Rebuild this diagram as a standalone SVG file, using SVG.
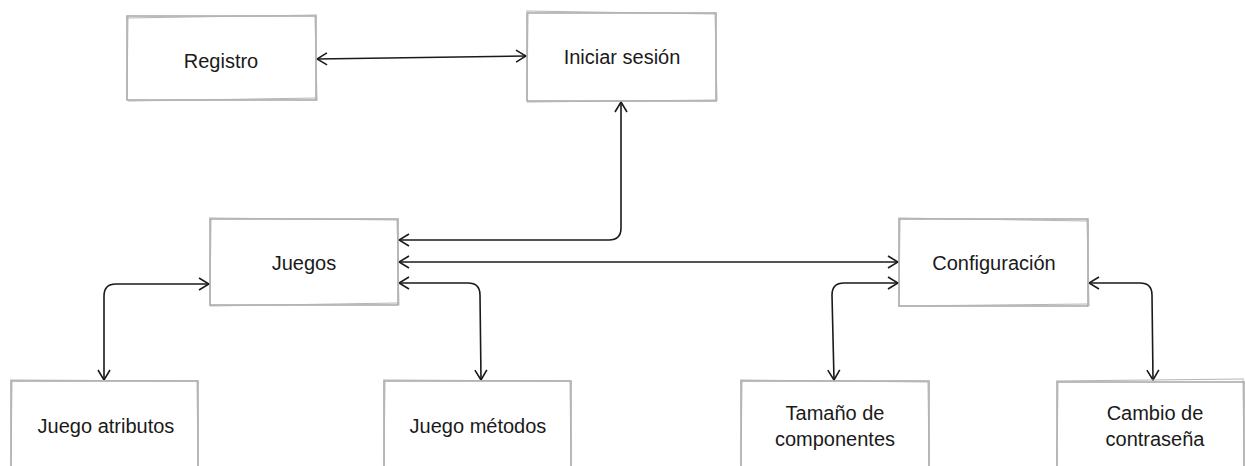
<svg xmlns="http://www.w3.org/2000/svg" width="1245" height="466" viewBox="0 0 1245 466">
<style>
.box{fill:#fff;stroke:#a0a0a0;stroke-width:1.4}
.sk{fill:none;stroke:#b4b4b4;stroke-width:1}
.lbl{font-family:"Liberation Sans",Arial,sans-serif;font-size:20px;fill:#1a1a1a;text-anchor:middle}
.con{fill:none;stroke:#1a1a1a;stroke-width:1.6;marker-start:url(#ah);marker-end:url(#ah)}
</style>
<defs>
<marker id="ah" viewBox="0 0 12 14" refX="11" refY="7" markerWidth="12" markerHeight="14" markerUnits="userSpaceOnUse" orient="auto-start-reverse">
<path d="M1,1 L11,7 L1,13" fill="none" stroke="#1a1a1a" stroke-width="1.6"/>
</marker>
</defs>
<g id="connectors">
<path class="con" d="M317,59 L526,56"/>
<path class="con" d="M621,102 L621,228 Q621,240 609,240 L399,240"/>
<path class="con" d="M399,262 L898,262"/>
<path class="con" d="M104,380 L104,296 Q104,284 116,284 L209,284"/>
<path class="con" d="M399,283 L468,283 Q480,283 480,295 L481,380"/>
<path class="con" d="M898,283 L844,283 Q832,283 832,295 L834,380"/>
<path class="con" d="M1089,283 L1140,283 Q1152,283 1152,295 L1153,380"/>
</g>
<g id="registro">
<rect class="box" x="127" y="16" width="189" height="84"/>
<path class="sk" d="M126,18 L317,15 M128,101 L316,98 M128,15 L127,100 M315,17 L317,101"/>
<text class="lbl" x="221" y="68">Registro</text>
</g>
<g id="iniciar">
<rect class="box" x="527" y="13" width="189" height="88"/>
<path class="sk" d="M526,11 L717,14 M527,102 L716,100 M528,12 L527,101 M715,12 L717,101"/>
<text class="lbl" x="622" y="64">Iniciar sesión</text>
</g>
<g id="juegos">
<rect class="box" x="210" y="219" width="188" height="86"/>
<path class="sk" d="M209,218 L399,220 M210,306 L398,303 M211,218 L210,306 M397,220 L399,305"/>
<text class="lbl" x="304" y="270">Juegos</text>
</g>
<g id="config">
<rect class="box" x="899" y="219" width="189" height="87"/>
<path class="sk" d="M898,218 L1088,221 M899,306 L1089,304 M900,218 L899,307 M1087,219 L1089,306"/>
<text class="lbl" x="994" y="270">Configuración</text>
</g>
<g id="atributos">
<rect class="box" x="11" y="381" width="187" height="90"/>
<path class="sk" d="M10,380 L198,381 M12,380 L11,466 M197,381 L198,466"/>
<text class="lbl" x="106" y="433">Juego atributos</text>
</g>
<g id="metodos">
<rect class="box" x="384" y="381" width="187" height="90"/>
<path class="sk" d="M383,380 L571,381 M385,380 L384,466 M570,381 L571,466"/>
<text class="lbl" x="478" y="433">Juego métodos</text>
</g>
<g id="tamano">
<rect class="box" x="741" y="381" width="188" height="90"/>
<path class="sk" d="M740,380 L929,382 M742,380 L741,466 M928,381 L929,466"/>
<text class="lbl" x="835" y="420">Tamaño de</text>
<text class="lbl" x="835" y="446">componentes</text>
</g>
<g id="cambio">
<rect class="box" x="1057" y="382" width="187" height="90"/>
<path class="sk" d="M1056,381 L1244,379 M1058,381 L1057,466 M1243,380 L1244,466"/>
<text class="lbl" x="1155" y="420">Cambio de</text>
<text class="lbl" x="1155" y="446">contraseña</text>
</g>
</svg>
